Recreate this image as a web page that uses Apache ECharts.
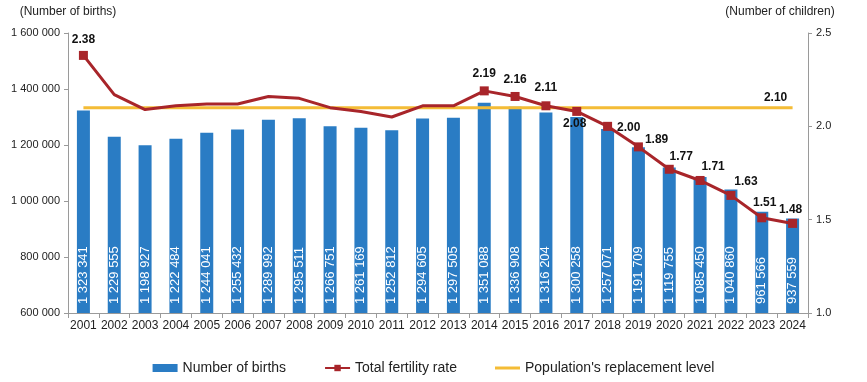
<!DOCTYPE html>
<html>
<head>
<meta charset="utf-8">
<script src="https://cdn.jsdelivr.net/npm/echarts@6/dist/echarts.min.js"></script>
<style>html,body{margin:0;padding:0;background:#fff;}#c{width:867px;height:382px;}</style>
</head>
<body>
<div id="c"></div>
<script>
const years = ['2001','2002','2003','2004','2005','2006','2007','2008','2009','2010','2011','2012','2013','2014','2015','2016','2017','2018','2019','2020','2021','2022','2023','2024'];
const births = [1323341,1229555,1198927,1222484,1244041,1255432,1289992,1295511,1266751,1261169,1252812,1294605,1297505,1351088,1336908,1316204,1300258,1257071,1191709,1119755,1085450,1040860,961566,937559];
const fertility = [2.38,2.17,2.09,2.11,2.12,2.12,2.16,2.15,2.10,2.08,2.05,2.11,2.11,2.19,2.16,2.11,2.08,2.00,1.89,1.77,1.71,1.63,1.51,1.48];
const replacement = [2.10,2.10,2.10,2.10,2.10,2.10,2.10,2.10,2.10,2.10,2.10,2.10,2.10,2.10,2.10,2.10,2.10,2.10,2.10,2.10,2.10,2.10,2.10,2.10];
const leftTicks = [600000, 1600000, 200000];
const rightTicks = [1.0, 2.5, 0.5];
const labelledYears = ['2001','2014','2015','2016','2017','2018','2019','2020','2021','2022','2023','2024'];

// label placement (styling, not data)
const labelPlace = {
  '2001': {position:'top', offset:[0,0]},
  '2014': {position:'top', offset:[0,-2]},
  '2015': {position:'top', offset:[0,-1]},
  '2016': {position:'top', offset:[0,-3]},
  '2017': {position:'bottom', offset:[-2,-3]},
  '2018': {position:'right', offset:[0,1]},
  '2019': {position:'right', offset:[-3,-7]},
  '2020': {position:'top', offset:[12,3]},
  '2021': {position:'top', offset:[13,2]},
  '2022': {position:'top', offset:[15,2]},
  '2023': {position:'top', offset:[3,0]},
  '2024': {position:'top', offset:[-2,2]}
};

const FONT = 'Liberation Sans, Arial, sans-serif';
const fmt = n => String(n).replace(/\B(?=(\d{3})+(?!\d))/g, ' ');

const fertData = fertility.map((v, i) => {
  const y = years[i];
  if (labelledYears.indexOf(y) >= 0) {
    const p = labelPlace[y];
    return {value: v, label: {show: true, position: p.position, offset: p.offset}};
  }
  return {value: v, symbol: 'none', label: {show: false}};
});

const chart = echarts.init(document.getElementById('c'), null, {renderer: 'canvas'});
chart.setOption({
  animation: false,
  textStyle: {fontFamily: FONT},
  grid: {left: 68, right: 59, top: 33, bottom: 69},
  legend: {
    bottom: 2, left: 'center', itemWidth: 25, itemHeight: 8, itemGap: 38,
    textStyle: {fontSize: 14, color: '#222', fontFamily: FONT},
    data: [
      {name: 'Number of births', icon: 'rect'},
      {name: 'Total fertility rate'},
      {name: "Population's replacement level", icon: 'path://M0,0 L25,0 L25,3 L0,3 Z'}
    ]
  },
  xAxis: {
    type: 'category', data: years, boundaryGap: true,
    axisLine: {lineStyle: {color: '#9a9a9a'}},
    axisTick: {show: true, length: 5, lineStyle: {color: '#9a9a9a'}},
    axisLabel: {color: '#222', fontSize: 12, margin: 7, interval: 0, fontFamily: FONT}
  },
  yAxis: [{
    type: 'value', min: leftTicks[0], max: leftTicks[1], interval: leftTicks[2],
    name: '(Number of births)', nameLocation: 'end', nameGap: 15,
    nameTextStyle: {color: '#222', fontSize: 12, align: 'center', fontFamily: FONT},
    axisLine: {show: true, lineStyle: {color: '#9a9a9a'}},
    axisTick: {show: true, length: 4, lineStyle: {color: '#9a9a9a'}},
    splitLine: {show: false},
    axisLabel: {color: '#222', fontSize: 11, margin: 8, formatter: v => fmt(v), fontFamily: FONT}
  }, {
    type: 'value', min: rightTicks[0], max: rightTicks[1], interval: rightTicks[2],
    name: '(Number of children)', nameLocation: 'end', nameGap: 15,
    nameTextStyle: {color: '#222', fontSize: 12, align: 'center', padding: [0, 56, 0, 0], fontFamily: FONT},
    axisLine: {show: true, lineStyle: {color: '#9a9a9a'}},
    axisTick: {show: true, length: 4, lineStyle: {color: '#9a9a9a'}},
    splitLine: {show: false},
    axisLabel: {color: '#222', fontSize: 11, margin: 8, formatter: v => v.toFixed(1), fontFamily: FONT}
  }],
  series: [{
    name: 'Number of births', type: 'bar', data: births, barWidth: 13,
    itemStyle: {color: '#2A7CC4'},
    label: {
      show: true, position: 'insideBottom', rotate: 90, align: 'left', verticalAlign: 'middle',
      distance: 9, color: '#fff', fontSize: 13, fontFamily: FONT, formatter: p => fmt(p.value)
    }
  }, {
    name: 'Total fertility rate', type: 'line', yAxisIndex: 1, data: fertData,
    symbol: 'rect', symbolSize: 9, showAllSymbol: true,
    lineStyle: {color: '#A8252A', width: 3},
    itemStyle: {color: '#A8252A'},
    label: {color: '#111', fontWeight: 'bold', fontSize: 12, fontFamily: FONT, formatter: p => p.value.toFixed(2)},
    z: 3
  }, {
    name: "Population's replacement level", type: 'line', yAxisIndex: 1, data: replacement,
    symbol: 'none', lineStyle: {color: '#F4BC36', width: 3},
    itemStyle: {color: '#F4BC36'},
    endLabel: {
      show: true, color: '#111', fontWeight: 'bold', fontSize: 12, fontFamily: FONT,
      align: 'center', verticalAlign: 'bottom', distance: 0, offset: [-17, -4],
      formatter: p => Number(p.value).toFixed(2)
    },
    z: 2
  }]
});
</script>
</body>
</html>
